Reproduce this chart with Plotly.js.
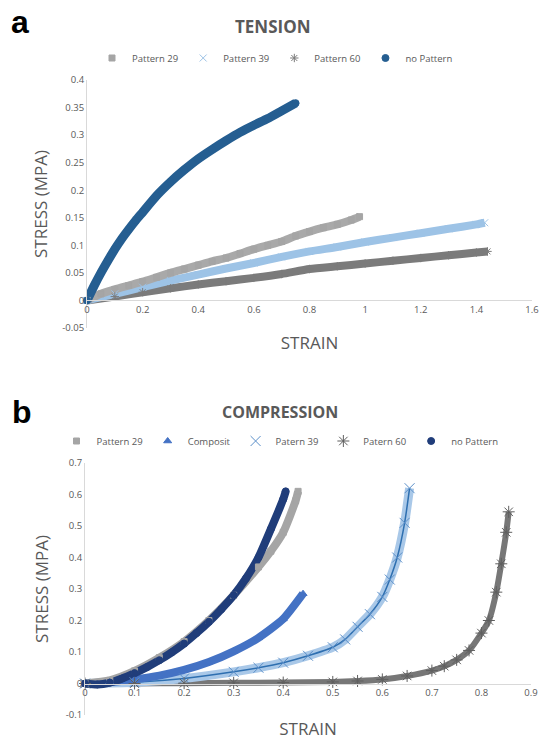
<!DOCTYPE html>
<html>
<head>
<meta charset="utf-8">
<script src="https://cdn.plot.ly/plotly-3.0.1.min.js"></script>
<style>html,body{margin:0;padding:0;background:#fff;}#chart{width:539px;height:740px;}</style>
</head>
<body>
<div id="chart"></div>
<script>
// ---------- Panel a : TENSION ----------
const tNoPatternX = [0, 0.025, 0.05, 0.075, 0.1, 0.125, 0.15, 0.175, 0.2, 0.25, 0.3, 0.35, 0.4, 0.45, 0.5, 0.55, 0.6, 0.65, 0.7, 0.75];
const tNoPatternY = [0, 0.026, 0.05, 0.072, 0.093, 0.112, 0.129, 0.145, 0.160, 0.190, 0.215, 0.237, 0.257, 0.274, 0.290, 0.305, 0.318, 0.330, 0.344, 0.358];
const tP29X = [0, 0.05, 0.1, 0.15, 0.2, 0.25, 0.3, 0.35, 0.4, 0.45, 0.5, 0.55, 0.6, 0.65, 0.7, 0.75, 0.8, 0.85, 0.9, 0.95, 0.98];
const tP29Y = [0, 0.012, 0.02, 0.027, 0.034, 0.042, 0.05, 0.057, 0.064, 0.071, 0.077, 0.085, 0.093, 0.1, 0.107, 0.117, 0.125, 0.132, 0.138, 0.146, 0.152];
const tP39X = [0, 0.1, 0.2, 0.3, 0.4, 0.5, 0.6, 0.7, 0.8, 0.9, 1.0, 1.1, 1.2, 1.3, 1.4, 1.43];
const tP39Y = [0, 0.012, 0.024, 0.036, 0.047, 0.058, 0.068, 0.079, 0.089, 0.097, 0.106, 0.114, 0.122, 0.13, 0.138, 0.141];
const tP60X = [0, 0.1, 0.2, 0.3, 0.4, 0.5, 0.6, 0.7, 0.8, 0.9, 1.0, 1.1, 1.2, 1.3, 1.4, 1.44];
const tP60Y = [0, 0.007, 0.015, 0.022, 0.029, 0.035, 0.041, 0.048, 0.057, 0.062, 0.067, 0.072, 0.077, 0.082, 0.087, 0.089];
const tXTicks = [0, 0.2, 0.4, 0.6, 0.8, 1, 1.2, 1.4, 1.6];
const tXTickText = ["0", "0.2", "0.4", "0.6", "0.8", "1", "1.2", "1.4", "1.6"];
const tYTicks = [-0.05, 0, 0.05, 0.1, 0.15, 0.2, 0.25, 0.3, 0.35, 0.4];
const tYTickText = ["-0.05", "0", "0.05", "0.1", "0.15", "0.2", "0.25", "0.3", "0.35", "0.4"];

// ---------- Panel b : COMPRESSION ----------
const cP29X = [0, 0.05, 0.1, 0.15, 0.2, 0.25, 0.3, 0.35, 0.375, 0.4, 0.425, 0.43];
const cP29Y = [0, 0.01, 0.04, 0.082, 0.133, 0.2, 0.28, 0.37, 0.42, 0.48, 0.58, 0.61];
const cCompositX = [0, 0.05, 0.1, 0.15, 0.2, 0.25, 0.3, 0.35, 0.4, 0.44];
const cCompositY = [0, 0.004, 0.013, 0.025, 0.043, 0.068, 0.102, 0.145, 0.205, 0.285];
const cP39X = [0, 0.1, 0.2, 0.3, 0.35, 0.4, 0.45, 0.5, 0.525, 0.55, 0.575, 0.6, 0.615, 0.63, 0.645, 0.655];
const cP39Y = [0, 0.004, 0.016, 0.037, 0.05, 0.066, 0.088, 0.115, 0.14, 0.18, 0.22, 0.275, 0.33, 0.40, 0.51, 0.62];
const cP60X = [0, 0.1, 0.2, 0.3, 0.4, 0.5, 0.55, 0.6, 0.65, 0.7, 0.725, 0.75, 0.775, 0.8, 0.815, 0.83, 0.84, 0.85, 0.855];
const cP60Y = [0, 0, 0.001, 0.002, 0.003, 0.005, 0.008, 0.013, 0.024, 0.041, 0.055, 0.075, 0.105, 0.16, 0.2, 0.29, 0.38, 0.48, 0.545];
const cNoPatternX = [0, 0.025, 0.05, 0.075, 0.1, 0.125, 0.15, 0.175, 0.2, 0.225, 0.25, 0.275, 0.3, 0.325, 0.35, 0.375, 0.4, 0.405];
const cNoPatternY = [0, -0.003, 0.003, 0.016, 0.033, 0.052, 0.074, 0.099, 0.127, 0.16, 0.196, 0.236, 0.28, 0.334, 0.40, 0.49, 0.585, 0.61];
const cXTicks = [0, 0.1, 0.2, 0.3, 0.4, 0.5, 0.6, 0.7, 0.8, 0.9];
const cXTickText = ["0", "0.1", "0.2", "0.3", "0.4", "0.5", "0.6", "0.7", "0.8", "0.9"];
const cYTicks = [-0.1, 0, 0.1, 0.2, 0.3, 0.4, 0.5, 0.6, 0.7];
const cYTickText = ["-0.1", "0", "0.1", "0.2", "0.3", "0.4", "0.5", "0.6", "0.7"];

const W = 539, H = 740;
const TXT = '#595959';
const FONT = 'Open Sans, sans-serif';

// domains from pixel layout
const xdomA = [87 / W, 532 / W];
const ydomA = [1 - 328 / H, 1 - 80 / H];
const xdomB = [85 / W, 531 / W];
const ydomB = [1 - 715 / H, 1 - 463 / H];
const yRangeA = [-0.05, 0.4];
const yRangeB = [-0.1, 0.7];
const posA = ydomA[0] + (ydomA[1] - ydomA[0]) * (0 - yRangeA[0]) / (yRangeA[1] - yRangeA[0]);
const posB = ydomB[0] + (ydomB[1] - ydomB[0]) * (0 - yRangeB[0]) / (yRangeB[1] - yRangeB[0]);

function band(x, y, color, width, xa, ya) {
  return {x: x, y: y, xaxis: xa, yaxis: ya, mode: 'lines', showlegend: false, hoverinfo: 'skip',
    line: {color: color, width: width, shape: 'spline', smoothing: 0.6}, cliponaxis: false};
}
function marks(x, y, name, symbol, color, size, lineColor, xa, ya, legend) {
  return {x: x, y: y, xaxis: xa, yaxis: ya, mode: 'markers', name: name, legend: legend, cliponaxis: false,
    marker: {symbol: symbol, color: color, size: size, line: {color: lineColor, width: 1}}};
}

const data = [
  // panel a bands
  band(tP60X, tP60Y, '#7b7b7b', 8, 'x', 'y'),
  band(tP39X, tP39Y, '#9dc3e6', 8, 'x', 'y'),
  band(tP29X, tP29Y, '#a9a9a9', 8, 'x', 'y'),
  band(tNoPatternX, tNoPatternY, '#255e91', 9, 'x', 'y'),
  // panel a markers + legend
  marks(tP29X, tP29Y, 'Pattern 29', 'square', '#a5a5a5', 6, '#a5a5a5', 'x', 'y', 'legend'),
  marks(tP39X, tP39Y, 'Pattern 39', 'x-thin-open', '#9dc3e6', 7, '#9dc3e6', 'x', 'y', 'legend'),
  marks(tP60X, tP60Y, 'Pattern 60', 'asterisk-open', '#7b7b7b', 7, '#7b7b7b', 'x', 'y', 'legend'),
  marks(tNoPatternX, tNoPatternY, 'no Pattern', 'circle', '#255e91', 7, '#255e91', 'x', 'y', 'legend'),

  // panel b bands
  band(cP60X, cP60Y, '#777777', 6, 'x2', 'y2'),
  band(cP39X, cP39Y, '#a9c8e8', 9, 'x2', 'y2'),
  band(cP39X, cP39Y, '#2e6fb0', 1.5, 'x2', 'y2'),
  band(cCompositX, cCompositY, '#4472c4', 8, 'x2', 'y2'),
  band(cP29X, cP29Y, '#a5a5a5', 8, 'x2', 'y2'),
  band(cNoPatternX, cNoPatternY, '#203d7a', 8, 'x2', 'y2'),
  // panel b markers + legend
  marks(cP29X, cP29Y, 'Pattern 29', 'square', '#a5a5a5', 6, '#a5a5a5', 'x2', 'y2', 'legend2'),
  marks(cCompositX, cCompositY, 'Composit', 'triangle-up', '#4472c4', 7, '#4472c4', 'x2', 'y2', 'legend2'),
  marks(cP39X, cP39Y, 'Patern 39', 'x-thin-open', '#5b8fc9', 10, '#5b8fc9', 'x2', 'y2', 'legend2'),
  marks(cP60X, cP60Y, 'Patern 60', 'asterisk-open', '#5f5f5f', 10, '#5f5f5f', 'x2', 'y2', 'legend2'),
  marks(cNoPatternX, cNoPatternY, 'no Pattern', 'circle', '#203d7a', 7, '#203d7a', 'x2', 'y2', 'legend2')
];

const axTick = {family: FONT, size: 9.5, color: TXT};
const axTitle = {family: FONT, size: 17, color: TXT};

const layout = {
  width: W, height: H,
  margin: {l: 0, r: 0, t: 0, b: 0},
  paper_bgcolor: '#fff', plot_bgcolor: '#fff',
  font: {family: FONT, color: TXT},
  showlegend: true,
  xaxis: {domain: xdomA, range: [0, 1.6], anchor: 'free', position: posA,
    tickvals: tXTicks, ticktext: tXTickText, tickfont: axTick, ticks: '', ticklabeloverflow: 'allow',
    showgrid: false, zeroline: false, showline: true, linecolor: '#d9d9d9', linewidth: 1,
    title: {text: 'STRAIN', font: axTitle, standoff: 22}},
  yaxis: {domain: ydomA, range: yRangeA, anchor: 'x',
    tickvals: tYTicks, ticktext: tYTickText, tickfont: axTick, ticks: '', ticklabeloverflow: 'allow',
    showgrid: false, zeroline: false, showline: true, linecolor: '#d9d9d9', linewidth: 1,
    title: {text: 'STRESS (MPA)', font: axTitle, standoff: 10}},
  xaxis2: {domain: xdomB, range: [0, 0.9], anchor: 'free', position: posB,
    tickvals: cXTicks, ticktext: cXTickText, tickfont: axTick, ticks: '', ticklabeloverflow: 'allow',
    showgrid: false, zeroline: false, showline: true, linecolor: '#d9d9d9', linewidth: 1,
    title: {text: 'STRAIN', font: axTitle, standoff: 33}},
  yaxis2: {domain: ydomB, range: yRangeB, anchor: 'x2',
    tickvals: cYTicks, ticktext: cYTickText, tickfont: axTick, ticks: '', ticklabeloverflow: 'allow',
    showgrid: false, zeroline: false, showline: true, linecolor: '#d9d9d9', linewidth: 1,
    title: {text: 'STRESS (MPA)', font: axTitle, standoff: 12}},
  legend: {orientation: 'h', x: 275 / W, y: 1 - 58 / H, xanchor: 'center', yanchor: 'middle',
    font: {family: FONT, size: 9.5, color: TXT}, bgcolor: 'rgba(0,0,0,0)', itemwidth: 30, itemclick: false},
  legend2: {orientation: 'h', x: 280 / W, y: 1 - 441 / H, xanchor: 'center', yanchor: 'middle',
    font: {family: FONT, size: 9.5, color: TXT}, bgcolor: 'rgba(0,0,0,0)', itemwidth: 30, itemclick: false},
  annotations: [
    {text: '<b>TENSION</b>', xref: 'paper', yref: 'paper', x: 273 / W, y: 1 - 27 / H, showarrow: false,
      xanchor: 'center', yanchor: 'middle', font: {family: FONT, size: 17, color: TXT}},
    {text: '<b>COMPRESSION</b>', xref: 'paper', yref: 'paper', x: 280 / W, y: 1 - 412 / H, showarrow: false,
      xanchor: 'center', yanchor: 'middle', font: {family: FONT, size: 16, color: TXT}},
    {text: '<b>a</b>', xref: 'paper', yref: 'paper', x: 20 / W, y: 1 - 22 / H, showarrow: false,
      xanchor: 'center', yanchor: 'middle', font: {family: 'Liberation Sans, Arial, sans-serif', size: 32, color: '#000'}},
    {text: '<b>b</b>', xref: 'paper', yref: 'paper', x: 22 / W, y: 1 - 412 / H, showarrow: false,
      xanchor: 'center', yanchor: 'middle', font: {family: 'Liberation Sans, Arial, sans-serif', size: 32, color: '#000'}}
  ]
};

Plotly.newPlot('chart', data, layout, {displayModeBar: false, staticPlot: true});
</script>
</body>
</html>
